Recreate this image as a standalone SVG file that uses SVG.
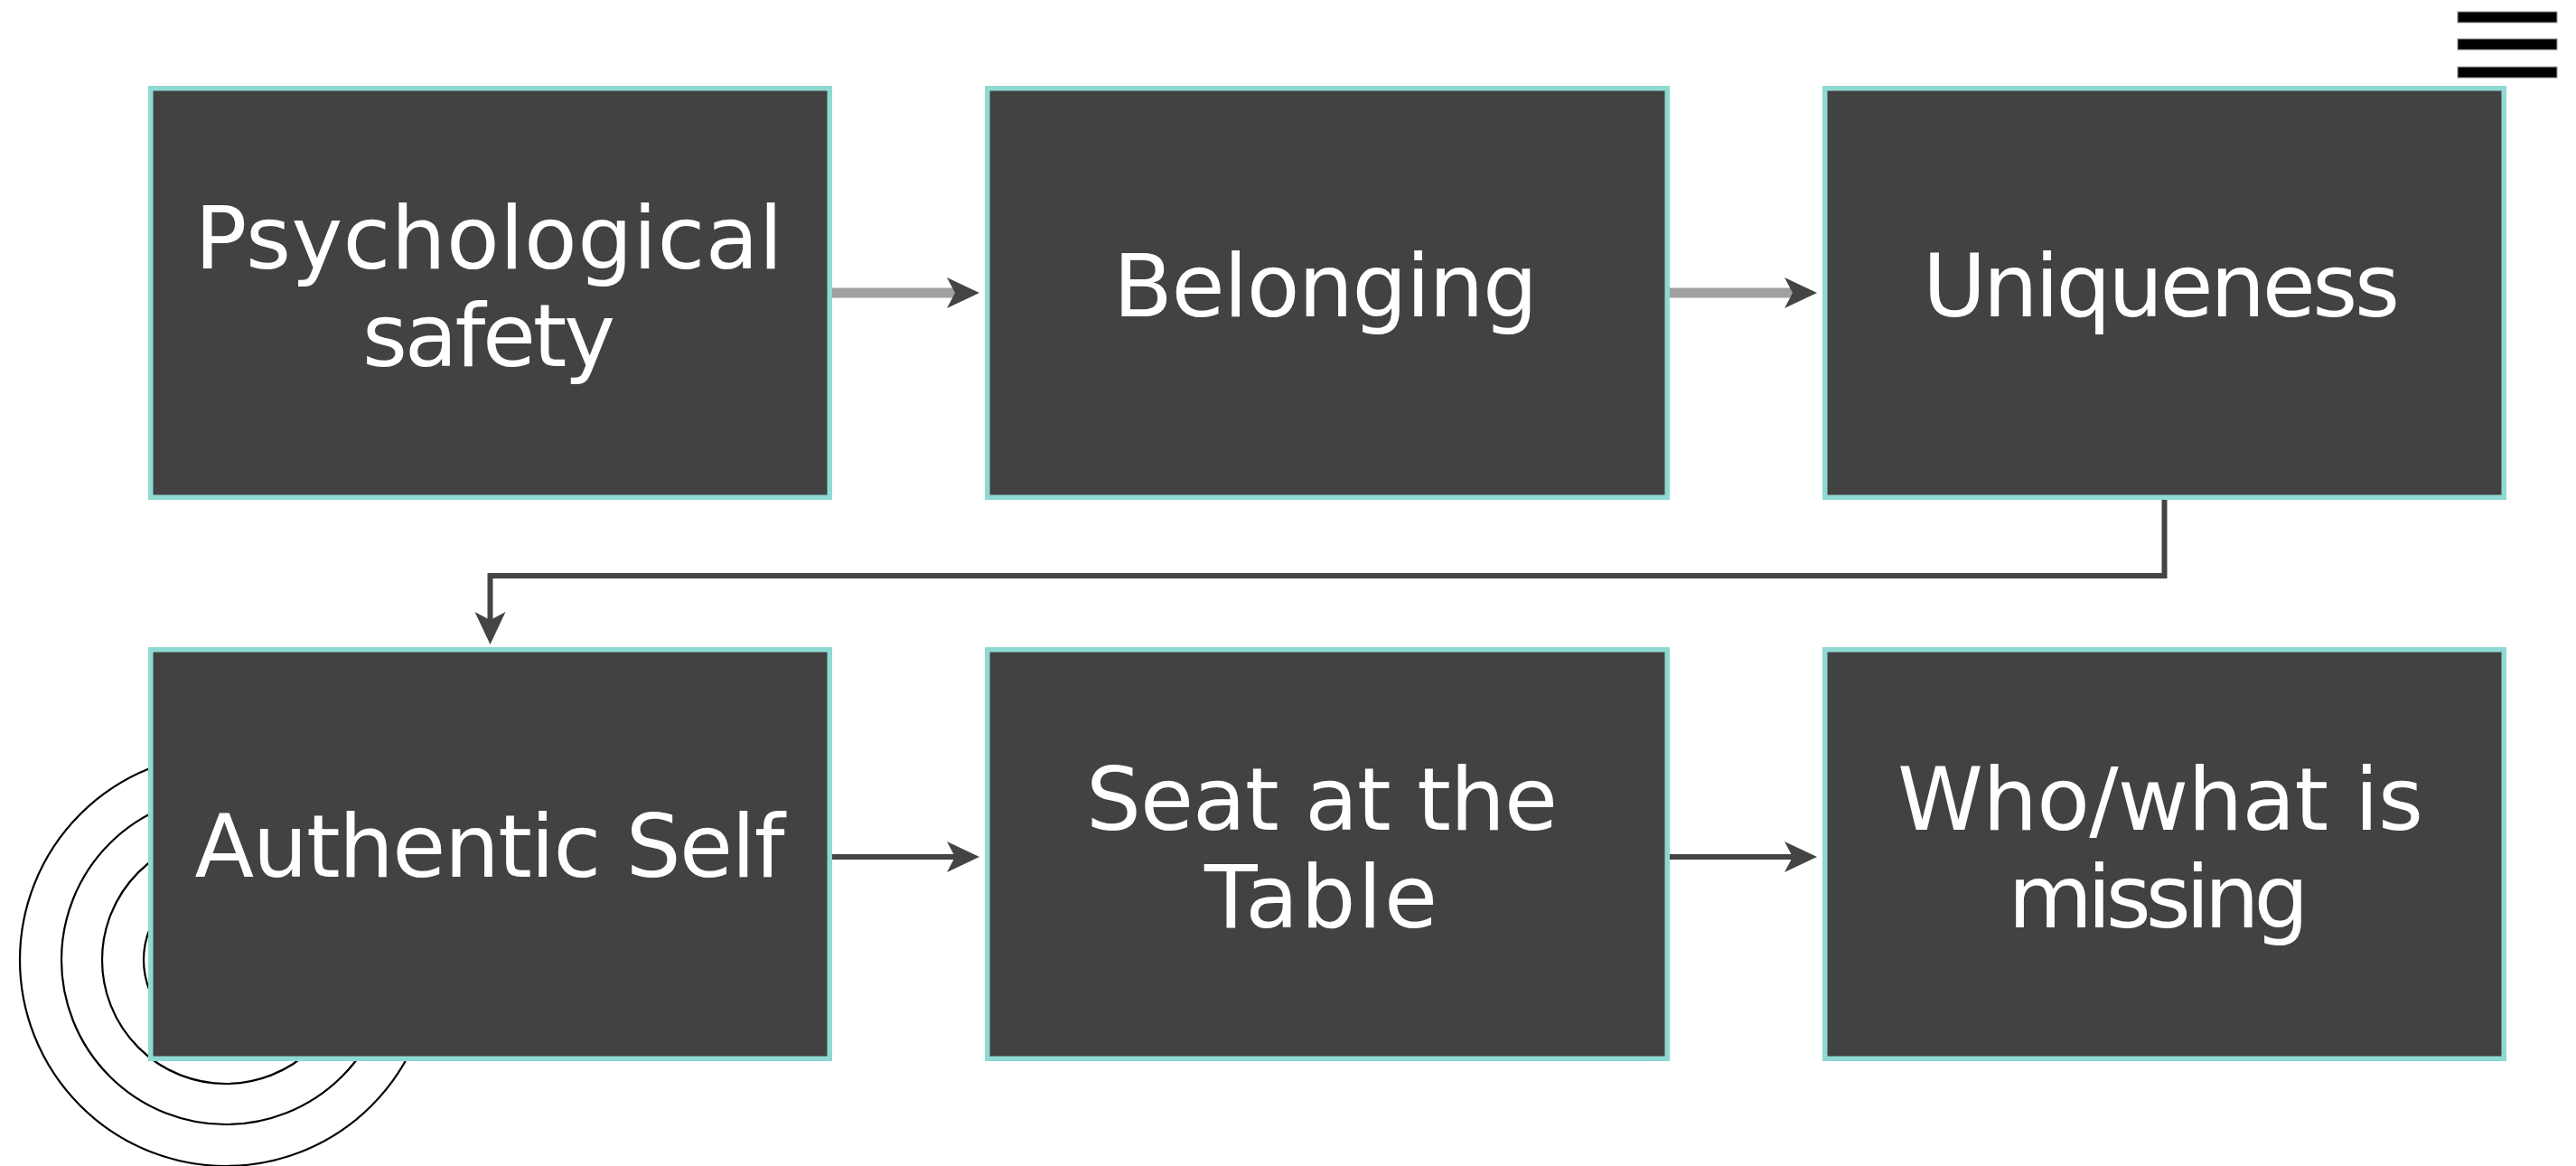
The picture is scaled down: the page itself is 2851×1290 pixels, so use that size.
<svg xmlns="http://www.w3.org/2000/svg" width="2851" height="1290" viewBox="0 0 2851 1290">
  <style>
    .box { fill: #424242; stroke: #8fd9d3; stroke-width: 5.5; }
    .lbl { font-family: "DejaVu Sans", "Liberation Sans", sans-serif; font-size: 96px; fill: #ffffff; text-anchor: middle; }
    .ring { fill: none; stroke: #000000; stroke-width: 2.2; }
    .gray { fill: none; stroke: #a0a0a0; stroke-width: 11; marker-end: url(#head); }
    .dark { fill: none; stroke: #444444; stroke-width: 6; marker-end: url(#head); }
    .bar { fill: #000000; stroke: #9a9a9a; stroke-width: 1; }
  </style>
  <defs>
    <marker id="head" viewBox="0 0 36 34" markerWidth="36" markerHeight="34" refX="9" refY="17" orient="auto" markerUnits="userSpaceOnUse">
      <path d="M0,0 L36,17 L0,34 L9,17 Z" fill="#444444"/>
    </marker>
  </defs>
  <rect width="2851" height="1290" fill="#ffffff"/>

  <g id="decor-rings">
    <circle class="ring" cx="250" cy="1062" r="228"/>
    <circle class="ring" cx="250" cy="1062" r="182"/>
    <circle class="ring" cx="250" cy="1062" r="137"/>
    <circle class="ring" cx="250" cy="1062" r="91"/>
  </g>

  <g id="menu-icon">
    <rect class="bar" x="2720" y="13" width="110" height="12"/>
    <rect class="bar" x="2720" y="43" width="110" height="12"/>
    <rect class="bar" x="2720" y="74" width="110" height="12"/>
  </g>

  <g id="connectors">
    <line class="gray" x1="921" y1="324" x2="1057" y2="324"/>
    <line class="gray" x1="1848" y1="324" x2="1984" y2="324"/>
    <polyline class="dark" points="2395.5,553 2395.5,637 542.5,637 542.5,686"/>
    <line class="dark" x1="921" y1="948" x2="1057" y2="948"/>
    <line class="dark" x1="1848" y1="948" x2="1984" y2="948"/>
  </g>

  <g id="node-psychological-safety">
    <rect class="box" x="166.75" y="97.75" width="751.5" height="452.5"/>
    <text class="lbl" x="541" y="297" textLength="651" lengthAdjust="spacing">Psychological</text>
    <text class="lbl" x="541" y="405" textLength="280" lengthAdjust="spacing">safety</text>
  </g>
  <g id="node-belonging">
    <rect class="box" x="1092.75" y="97.75" width="752.5" height="452.5"/>
    <text class="lbl" x="1467" y="350" textLength="470" lengthAdjust="spacing">Belonging</text>
  </g>
  <g id="node-uniqueness">
    <rect class="box" x="2019.75" y="97.75" width="751.5" height="452.5"/>
    <text class="lbl" x="2392" y="350" textLength="528" lengthAdjust="spacing">Uniqueness</text>
  </g>
  <g id="node-authentic-self">
    <rect class="box" x="166.75" y="718.75" width="751.5" height="452.5"/>
    <text class="lbl" x="542" y="970" textLength="653" lengthAdjust="spacing">Authentic Self</text>
  </g>
  <g id="node-seat-at-the-table">
    <rect class="box" x="1092.75" y="718.75" width="752.5" height="452.5"/>
    <text class="lbl" x="1463" y="918" textLength="522" lengthAdjust="spacing">Seat at the</text>
    <text class="lbl" x="1462" y="1026" textLength="258" lengthAdjust="spacing">Table</text>
  </g>
  <g id="node-who-what-is-missing">
    <rect class="box" x="2019.75" y="718.75" width="751.5" height="452.5"/>
    <text class="lbl" x="2391" y="918" textLength="582" lengthAdjust="spacing">Who/what is</text>
    <text class="lbl" x="2389" y="1026" textLength="333" lengthAdjust="spacing">missing</text>
  </g>
</svg>
